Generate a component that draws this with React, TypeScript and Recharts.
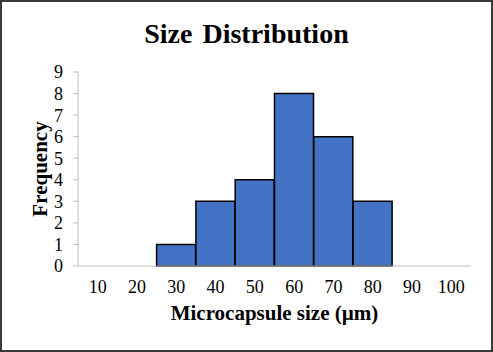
import { BarChart, Bar, XAxis, YAxis, Label } from "recharts";

const sizes = ["10", "20", "30", "40", "50", "60", "70", "80", "90", "100"];
const counts = [0, 0, 1, 3, 4, 8, 6, 3, 0, 0];
const yTicks = [0, 1, 2, 3, 4, 5, 6, 7, 8, 9];

const data = sizes.map((s, i) => ({ size: s, freq: counts[i] }));

const serif = "'Liberation Serif', 'Times New Roman', serif";

export default function App() {
  return (
    <div style={{ position: "fixed", left: 0, top: 0, width: 493, height: 352, background: "#fff", fontFamily: serif }}>
      <div
        style={{
          position: "absolute",
          left: 0,
          top: 19,
          width: 493,
          textAlign: "center",
          fontSize: 28,
          fontWeight: "bold",
          lineHeight: "30px",
          wordSpacing: 3,
          color: "#000",
        }}
      >
        Size Distribution
      </div>
      <div style={{ position: "absolute", left: 0, top: 0 }}>
        <BarChart
          width={493}
          height={352}
          data={data}
          margin={{ top: 72, right: 22, left: 0, bottom: 0 }}
          barCategoryGap={0}
        >
          <XAxis
            dataKey="size"
            height={86}
            tickLine={false}
            tickMargin={8}
            axisLine={{ stroke: "#bfbfbf" }}
            tick={{ fill: "#000", fontSize: 18, fontFamily: serif }}
            interval={0}
          >
            <Label
              value="Microcapsule size (µm)"
              position="insideBottom"
              offset={32}
              style={{ fontSize: 21, fontWeight: "bold", fill: "#000", fontFamily: serif }}
            />
          </XAxis>
          <YAxis
            width={78}
            domain={[0, 9]}
            ticks={yTicks}
            interval={0}
            tickSize={5}
            tickMargin={10}
            axisLine={{ stroke: "#bfbfbf" }}
            tickLine={{ stroke: "#bfbfbf" }}
            tick={{ fill: "#000", fontSize: 18, fontFamily: serif }}
          >
            <Label
              content={(props: any) => {
                const vb = props.viewBox || {};
                const cy = (vb.y ?? 72) + (vb.height ?? 194) / 2;
                return (
                  <text
                    x={40}
                    y={cy}
                    transform={`rotate(-90, 40, ${cy})`}
                    textAnchor="middle"
                    dominantBaseline="central"
                    style={{ fontSize: 21, fontWeight: "bold", fill: "#000", fontFamily: serif }}
                  >
                    Frequency
                  </text>
                );
              }}
            />
          </YAxis>
          <Bar dataKey="freq" fill="#4472C4" stroke="#000" strokeWidth={1.5} isAnimationActive={false} />
        </BarChart>
      </div>
      <div
        style={{
          position: "absolute",
          left: 0,
          top: 0,
          width: 493,
          height: 352,
          boxSizing: "border-box",
          border: "2px solid #3a3a3a",
          pointerEvents: "none",
        }}
      />
    </div>
  );
}
